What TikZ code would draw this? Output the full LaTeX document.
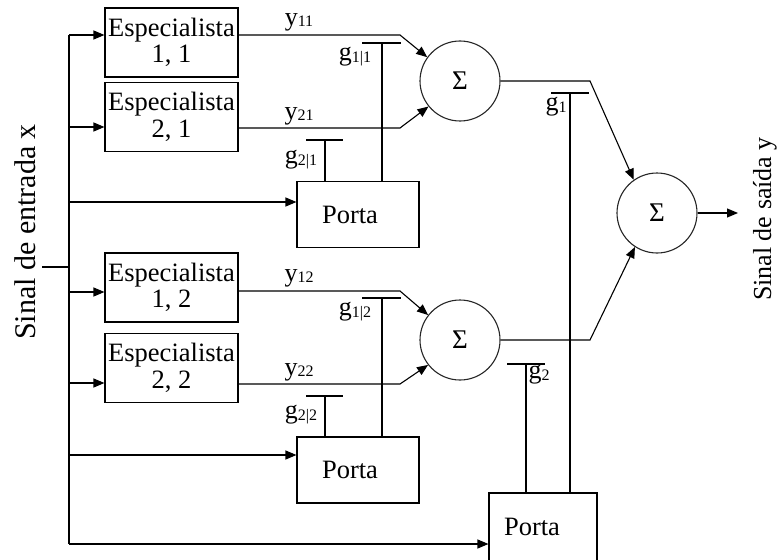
\documentclass[tikz,border=0pt]{standalone}
\usepackage{fontspec}
\setmainfont{Liberation Serif}
\usetikzlibrary{arrows.meta,calc}
% small, slightly lowered index digits
\newcommand{\idx}[1]{\raisebox{-1.5pt}{\fontsize{16}{16}\selectfont #1}}
\begin{document}
\begin{tikzpicture}[x=1pt,y=-1pt,line width=1.1pt,
  box/.style={draw, rectangle, inner sep=0pt, align=center,
    font=\fontsize{26.5}{26.5}\selectfont},
  expert/.style={box, minimum width=133pt, minimum height=69pt},
  gate/.style={box, minimum width=122pt, minimum height=66pt},
  sumnode/.style={draw=black!85, circle, minimum size=80pt, inner sep=0pt,
    font=\fontsize{27}{27}\selectfont},
  sig/.style={-{Triangle[length=11pt,width=9pt]}},
  lbl/.style={inner sep=0pt, font=\fontsize{26}{26}\selectfont},
  axis/.style={inner sep=0pt, rotate=90},
]
\useasboundingbox (0,0) rectangle (778,559);
\clip (0,0) rectangle (778,559);

% experts
\node[expert] (e11) at (171.5,42.5) {Especialista\\1, 1};
\node[expert] (e21) at (171.5,117)  {Especialista\\2, 1};
\node[expert] (e12) at (171.5,287.5){Especialista\\1, 2};
\node[expert] (e22) at (171.5,368)  {Especialista\\2, 2};

% gating networks
\node[gate] (p1) at (358,214.5) {Porta\hspace{16pt}};
\node[gate] (p2) at (358,470)   {Porta\hspace{16pt}};
\node[box, minimum width=108pt, minimum height=77pt] (p3) at (543,531.5)
  {\raisebox{10pt}{Porta}\hspace{22pt}};

% summing junctions
\node[sumnode] (s1) at (460,81)  {Σ};
\node[sumnode] (s2) at (460,340) {Σ};
\node[sumnode] (s3) at (657,213) {Σ};

% input bus
\coordinate (ttop) at (69,35);
\coordinate (tbot) at (69,544);
\coordinate (xin)  at (42,267);
\coordinate (tin)  at (69,267);
\coordinate (t21)  at (69,127);
\coordinate (tp1)  at (69,202);
\coordinate (t12)  at (69,292);
\coordinate (t22)  at (69,383);
\coordinate (tp2)  at (69,455);

\draw (ttop) -- (tbot);
\draw (xin) -- (tin);
\draw[sig] (ttop) -- (ttop -| e11.west);
\draw[sig] (t21)  -- (t21 -| e21.west);
\draw[sig] (tp1)  -- (tp1 -| p1.west);
\draw[sig] (t12)  -- (t12 -| e12.west);
\draw[sig] (t22)  -- (t22 -| e22.west);
\draw[sig] (tp2)  -- (tp2 -| p2.west);
\draw[sig] (tbot) -- (tbot -| p3.west);

% expert outputs
\coordinate (k11) at (400,35);
\coordinate (k21) at (400,128);
\coordinate (k12) at (400,291);
\coordinate (k22) at (400,384);
\draw[sig] (e11.east |- k11) -- (k11) -- (s1.144);
\draw[sig] (e21.east |- k21) -- (k21) -- (s1.219);
\draw[sig] (e12.east |- k12) -- (k12) -- (s2.142);
\draw[sig] (e22.east |- k22) -- (k22) -- (s2.218);

\node[lbl] (ly11) at (299,22)  {y\idx{11}};
\node[lbl] (ly21) at (299,116) {y\idx{21}};
\node[lbl] (ly12) at (299,278) {y\idx{12}};
\node[lbl] (ly22) at (299,372) {y\idx{22}};

% gate signals
\coordinate (g11) at (382,43);
\coordinate (g21) at (325,140);
\coordinate (g12) at (382,298);
\coordinate (g22) at (325,396);
\coordinate (g1)  at (570,93);
\coordinate (g2)  at (526,364);
\foreach \g/\l/\r in {g11/20/19, g21/19/18, g12/20/19, g22/19/18, g1/19/19, g2/19/19}
  \draw ($(\g)+(-\l,0)$) -- ($(\g)+(\r,0)$);
\draw (g11) -- (g11 |- p1.north);
\draw (g21) -- (g21 |- p1.north);
\draw (g12) -- (g12 |- p2.north);
\draw (g22) -- (g22 |- p2.north);
\draw (g1)  -- (g1 |- p3.north);
\draw (g2)  -- (g2 |- p3.north);

\node[lbl] (lg11) at (355,57)  {g\idx{1|1}};
\node[lbl] (lg21) at (301,160) {g\idx{2|1}};
\node[lbl] (lg12) at (355,312) {g\idx{1|2}};
\node[lbl] (lg22) at (301,415) {g\idx{2|2}};
\node[lbl] (lg1)  at (556,107) {g\idx{1}};
\node[lbl] (lg2)  at (539,375) {g\idx{2}};

% second stage
\coordinate (m1) at (590,81);
\coordinate (m2) at (590,340);
\draw[sig] (s1.east) -- (m1) -- (s3.125);
\draw[sig] (s2.east) -- (m2) -- (s3.237);
\coordinate (yout) at (738,213);
\draw[sig] (s3.east) -- (yout);

% signal names
\node[axis, font=\fontsize{30}{30}\selectfont] (xname) at (25,232) {Sinal de entrada x};
\node[axis, font=\fontsize{26}{26}\selectfont] (yname) at (765,219) {Sinal de saída y};
\end{tikzpicture}
\end{document}
